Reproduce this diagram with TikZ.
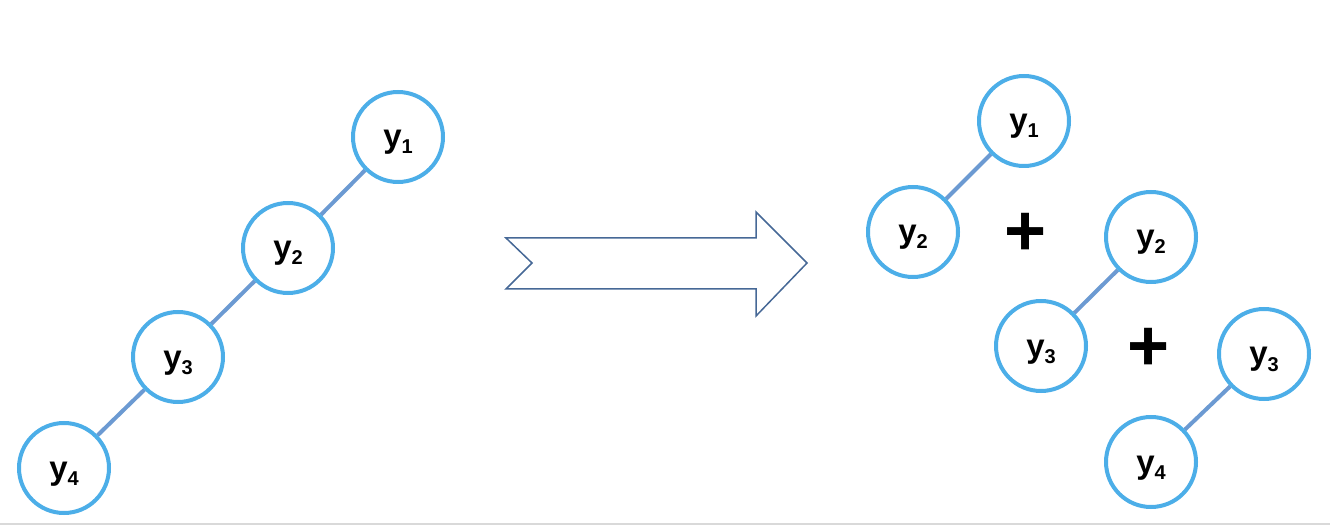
\documentclass[tikz,border=0pt]{standalone}
\usepackage{fontspec}
\setmainfont{Liberation Sans}
\usetikzlibrary{backgrounds}
\definecolor{ringblue}{RGB}{76,174,232}
\definecolor{linkblue}{RGB}{108,154,210}
\definecolor{arrowblue}{RGB}{70,104,150}
\definecolor{baseg}{RGB}{217,217,217}
\newcommand{\yvar}[1]{{\fontsize{33}{33}\selectfont\bfseries y}{\fontsize{20}{20}\selectfont\bfseries\raisebox{-6pt}{#1}}}
\tikzset{
  ynode/.style={circle, draw=ringblue, line width=4pt, fill=white, minimum size=90pt, inner sep=0pt, text height=26pt, text depth=4pt, align=center},
  link/.style={draw=linkblue, line width=4pt},
  plussign/.style={inner sep=0pt, font=\fontsize{72}{72}\selectfont\bfseries},
}
\begin{document}
\begin{tikzpicture}[x=1pt,y=-1pt]
\useasboundingbox (0,0) rectangle (1330,526);
\fill[baseg] (0,522.5) rectangle (1330,525);
% left chain
\node[ynode] (L1) at (398,137) {\yvar{1}};
\node[ynode] (L2) at (288,248) {\yvar{2}};
\node[ynode] (L3) at (178,357) {\yvar{3}};
\node[ynode] (L4) at (64,468) {\yvar{4}};
% right pairs
\node[ynode] (A1) at (1024,121) {\yvar{1}};
\node[ynode] (A2) at (913,232) {\yvar{2}};
\node[ynode] (B2) at (1151,237) {\yvar{2}};
\node[ynode] (B3) at (1041,346) {\yvar{3}};
\node[ynode] (C3) at (1264,354) {\yvar{3}};
\node[ynode] (C4) at (1151,462) {\yvar{4}};
\node[plussign] (P1) at (1026,234) {+};
\node[plussign] (P2) at (1149,349) {+};
\begin{scope}[on background layer]
\draw[link] (L1) -- (L2);
\draw[link] (L2) -- (L3);
\draw[link] (L3) -- (L4);
\draw[link] (A1) -- (A2);
\draw[link] (B2) -- (B3);
\draw[link] (C3) -- (C4);
\end{scope}
% big arrow
\draw[arrowblue, line width=1.5pt, line join=miter]
  (506,238) -- (756,238) -- (756,212) -- (807,263) -- (756,316) -- (756,289) -- (506,289) -- (532,263) -- cycle;
\end{tikzpicture}
\end{document}
